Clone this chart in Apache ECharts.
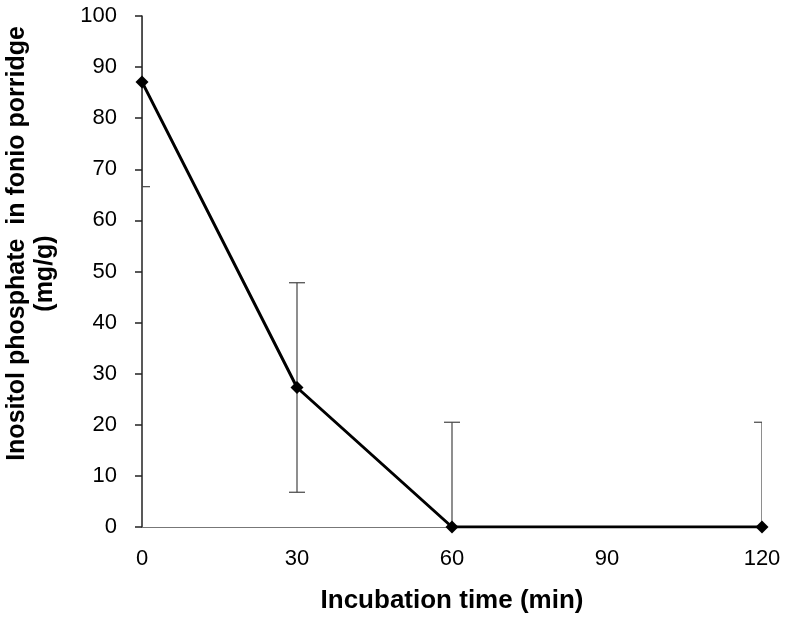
<!DOCTYPE html>
<html><head><meta charset="utf-8">
<script src="https://cdn.jsdelivr.net/npm/echarts@6/dist/echarts.min.js"></script>
<style>html,body{margin:0;padding:0;background:#fff}#c{width:793px;height:624px}</style>
</head><body><div id="c"></div>
<script>
var categories = ['0', '30', '60', '90', '120'];
var means = [87.1, 27.3, 0, null, 0];
var errors = [20.5, 20.5, 20.5, null, 20.5];
var yTicks = [0, 10, 20, 30, 40, 50, 60, 70, 80, 90, 100];

var errData = [];
for (var i = 0; i < categories.length; i++) {
  if (means[i] !== null) errData.push([i, means[i] - errors[i], means[i] + errors[i]]);
}

var chart = echarts.init(document.getElementById('c'));
chart.setOption({
  animation: false,
  backgroundColor: '#fff',
  grid: { left: 142, right: 31, top: 16, bottom: 97, containLabel: false, outerBoundsMode: 'none' },
  xAxis: {
    type: 'category', data: categories, boundaryGap: false,
    name: 'Incubation time (min)', nameLocation: 'middle', nameGap: 61,
    nameTextStyle: { fontFamily: 'Liberation Sans', fontWeight: 'bold', fontSize: 26, color: '#000' },
    axisLine: { lineStyle: { color: '#777', width: 1 } },
    axisTick: { show: false },
    axisLabel: { fontFamily: 'Liberation Sans', fontSize: 22, color: '#000', margin: 21 },
    splitLine: { show: false }
  },
  yAxis: {
    type: 'value', min: yTicks[0], max: yTicks[yTicks.length - 1], interval: 10,
    name: '{a|Inositol phosphate  in fonio porridge}\n{b|(mg/g)}', nameLocation: 'middle', nameGap: 83,
    nameTextStyle: {
      fontFamily: 'Liberation Sans', fontWeight: 'bold', fontSize: 25, color: '#000', lineHeight: 28, padding: [0, 0, 0, 56],
      rich: {
        a: { fontFamily: 'Liberation Sans', fontWeight: 'bold', fontSize: 25, color: '#000', lineHeight: 28 },
        b: { fontFamily: 'Liberation Sans', fontWeight: 'bold', fontSize: 25, color: '#000', lineHeight: 28, padding: [0, 60, 0, 0] }
      }
    },
    axisLine: { show: true, lineStyle: { color: '#222', width: 1.5 } },
    axisTick: { show: true, inside: false, length: 7, lineStyle: { color: '#222', width: 1.5 } },
    axisLabel: { fontFamily: 'Liberation Sans', fontSize: 22, color: '#000', margin: 25 },
    splitLine: { show: false }
  },
  series: [
    {
      type: 'custom', data: errData, clip: true, z: 1,
      renderItem: function (params, api) {
        var x = api.value(0);
        var lo = api.coord([x, api.value(1)]);
        var hi = api.coord([x, api.value(2)]);
        var w = 8;
        var st = { stroke: '#444', lineWidth: 1.2, fill: null };
        return {
          type: 'group',
          children: [
            { type: 'line', shape: { x1: lo[0], y1: lo[1], x2: hi[0], y2: hi[1] }, style: st },
            { type: 'line', shape: { x1: lo[0] - w, y1: lo[1], x2: lo[0] + w, y2: lo[1] }, style: st },
            { type: 'line', shape: { x1: hi[0] - w, y1: hi[1], x2: hi[0] + w, y2: hi[1] }, style: st }
          ]
        };
      }
    },
    {
      type: 'line', data: means, connectNulls: true, z: 3,
      symbol: 'diamond', symbolSize: 13, showAllSymbol: true,
      lineStyle: { color: '#000', width: 3 },
      itemStyle: { color: '#000' }
    }
  ]
});
</script></body></html>
